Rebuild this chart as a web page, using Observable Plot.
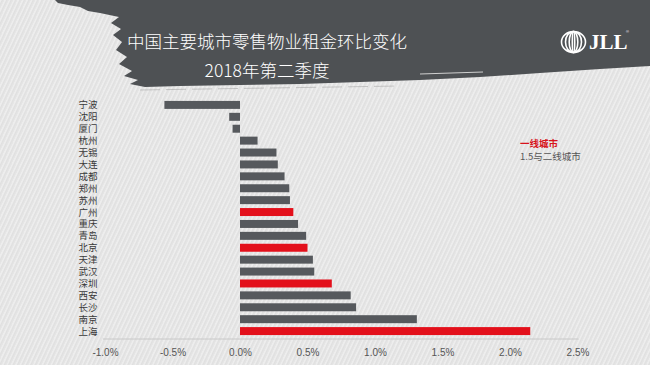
<!DOCTYPE html>
<html><head><meta charset="utf-8">
<script src="https://cdn.jsdelivr.net/npm/d3@7"></script>
<script src="https://cdn.jsdelivr.net/npm/@observablehq/plot@0.6"></script>
<style>
html,body{margin:0;padding:0;}
#wrap{position:relative;width:650px;height:365px;overflow:hidden;
 background:#e7e7e7;
 background-image:repeating-linear-gradient(115deg, rgba(255,255,255,0.25) 0px, rgba(255,255,255,0.25) 1px, rgba(0,0,0,0.03) 2px, rgba(0,0,0,0) 4px);
 font-family:"Noto Sans CJK SC","Noto Sans",sans-serif;}
#bg{position:absolute;left:0;top:0;}
#chart{position:absolute;left:0;top:0;line-height:0;}
.t{position:absolute;color:#fff;font-weight:300;white-space:nowrap;text-align:center;}
.lg{position:absolute;font-size:9.5px;white-space:nowrap;}
</style></head>
<body><div id="wrap">
<svg id="bg" width="650" height="365">
 <polygon fill="#4e5154" points="55,0 650,0 650,66 600,69 540,73 480,77 420,80 360,82 300,84 240,85 180,86 145,87 130,84 138,80 124,76 132,71 119,64 127,57 116,50 122,42 113,35 121,29 111,23 119,17 100,13 88,11 80,7 68,5 58,3"/>
 <line x1="420" y1="74" x2="483" y2="72" stroke="#cfcfcf" stroke-width="1"/>
 <line x1="140" y1="90" x2="400" y2="86" stroke="#9a9a9a" stroke-width="0.8" stroke-dasharray="20,6" opacity="0.6"/>
 <g fill="none" stroke="#fff" stroke-width="1.6">
  <ellipse cx="573.5" cy="42" rx="12" ry="10.5"/>
  <ellipse cx="573.5" cy="42" rx="8" ry="10.5"/>
  <ellipse cx="573.5" cy="42" rx="4.3" ry="10.5"/>
  <ellipse cx="573.5" cy="42" rx="1.2" ry="10.5"/>
 </g>
 <text x="589" y="49" fill="#fff" font-family="Liberation Serif" font-weight="bold" font-size="21">JLL</text>
 <text x="626" y="33" fill="#fff" font-family="Liberation Sans" font-size="4">®</text>
</svg>
<div class="t" style="left:97px;width:340px;top:29px;font-size:17.5px;line-height:24px;">中国主要城市零售物业租金环比变化</div>
<div class="t" style="left:97px;width:340px;top:58px;font-size:17.5px;line-height:24px;">2018年第二季度</div>
<div id="chart"></div>
<div class="lg" style="left:520px;top:136px;color:#d7141c;font-weight:bold;">一线城市</div>
<div class="lg" style="left:520px;top:149px;color:#555;">1.5与二线城市</div>
</div>
<script>
const cities = ["宁波","沈阳","厦门","杭州","无锡","大连","成都","郑州","苏州","广州","重庆","青岛","北京","天津","武汉","深圳","西安","长沙","南京","上海"];
const changes = [-0.56,-0.08,-0.055,0.13,0.27,0.28,0.33,0.365,0.37,0.395,0.43,0.49,0.50,0.54,0.55,0.68,0.82,0.86,1.31,2.15];
const tier = ["其他","其他","其他","其他","其他","其他","其他","其他","其他","一线","其他","其他","一线","其他","其他","一线","其他","其他","其他","一线"];
const xTicks = [-1.0,-0.5,0.0,0.5,1.0,1.5,2.0,2.5];

const data = cities.map((c,i)=>({city:c, value:changes[i], tier:tier[i]}));

const chart = Plot.plot({
  width:650, height:365,
  marginTop:97, marginBottom:26, marginLeft:105, marginRight:72.5,
  style:{background:"transparent", fontFamily:"'Noto Sans CJK SC','Liberation Sans',sans-serif"},
  x:{domain:[-1,2.5], ticks:xTicks},
  y:{domain:cities, padding:0.33, round:false},
  color:{domain:["一线","其他"], range:["#e3101b","#56595d"]},
  marks:[
    Plot.barX(data,{x:"value", y:"city", fill:"tier"}),
    Plot.axisY({tickSize:0, tickPadding:8, fontSize:9.5, fill:"#3a3a3a", label:null}),
    Plot.axisX({ticks:xTicks, tickSize:0, tickPadding:9, fontSize:10, fill:"#555",
      fontFamily:"Liberation Sans",
      tickFormat:d=>d.toFixed(1).replace("\u2212","-")+"%", label:null})
  ]
});
document.getElementById("chart").appendChild(chart);
// axis baseline drawn from scales
const xs = chart.scale("x"), ys = chart.scale("y");
const yb = ys.range[1];
d3.select(chart).append("line")
  .attr("x1", xs.apply(-1)-2).attr("x2", xs.apply(2.5)+1)
  .attr("y1", yb).attr("y2", yb)
  .attr("stroke","#c8c8c8").attr("stroke-width",1);
</script>
</body></html>
